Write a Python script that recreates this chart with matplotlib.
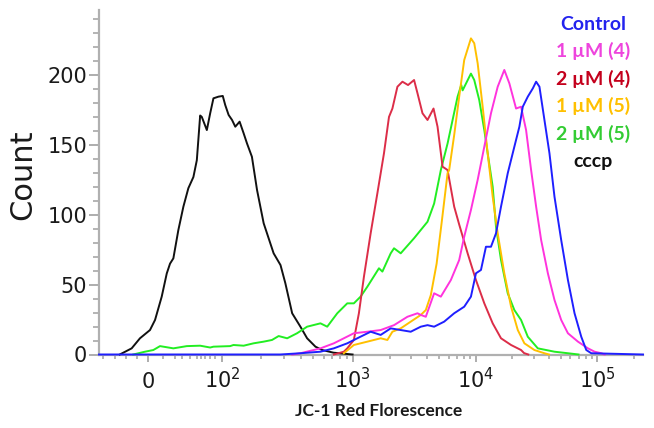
import numpy as np
import matplotlib
matplotlib.use('Agg')
import matplotlib.pyplot as plt
from matplotlib.ticker import FixedLocator, NullFormatter

# Fluorescence values (x) and counts (y)
cccp_x = [-38, -22, -10.8, 2.7, 9.5, 18.5, 25.3, 29.7, 34.2, 40.9, 47.7, 54.4, 61.2, 65.8,
          70.3, 72.5, 79.3, 83.8, 88.2, 95, 101, 105.5, 112, 119, 126, 136, 146, 155, 169,
          185, 208, 248, 280, 305, 344, 398, 448, 519, 585, 714, 1000]
cccp_y = [0, 4.4, 11.6, 17.5, 24.7, 41.4, 58, 65, 68.8, 89, 105.8, 119, 127, 139,
          171, 170, 160.6, 172.6, 183.3, 184.5, 185, 178.5, 171.4, 167.8, 163, 166.6, 158.3, 151, 141.5,
          117.7, 93.9, 72.4, 64, 51, 29.5, 19.9, 11.6, 5.6, 3.2, 1.3, 0]

green_x = [-19.9, -4.1, 7.2, 16.2, 34.2, 52.3, 70.3, 83.8, 88.2, 115, 122, 146, 174, 208,
           241, 271, 315, 375, 448, 567, 639, 763, 910, 1024, 1161, 1317, 1636, 1744, 2037,
           2167, 2456, 3151, 4049, 4581, 5193, 5888, 7099, 7600, 7797, 9107, 9688, 10650,
           11720, 12490, 13740, 14630, 16090, 18280, 20730, 23540, 26750, 32350, 44380, 57270, 70000]
green_y = [0, 2, 3.2, 6, 4.4, 6, 6.3, 5, 5.6, 6, 6.8, 6.3, 8, 9.2,
           10.4, 13.2, 11.6, 15.2, 19.9, 22.3, 19.9, 29.5, 36.6, 36.6, 41.4, 48.5, 61.7, 59.3, 72.4,
           76, 72.4, 83.2, 95, 108, 132, 151, 184.5, 192.8, 189, 201, 196.4, 182,
           160.6, 144, 120, 91.4, 67.6, 43.8, 31.8, 24.7, 12.7, 4.4, 2, 0.9, 0]

red_x = [718, 857, 910, 1024, 1125, 1236, 1401, 1588, 1797, 1973, 2103, 2309, 2536, 2816,
         3151, 3359, 3687, 4049, 4530, 4883, 5362, 5888, 6662, 7315, 8562, 10000, 11720,
         13740, 16090, 19470, 23540, 24930, 27000]
red_y = [0, 2, 4.4, 10.4, 29.5, 55.7, 86.7, 115.3, 144, 170, 176, 191.6, 195.2, 192.8,
         196.4, 186.9, 172.6, 167.8, 176, 163, 134.4, 132, 105.8, 93, 72.4, 53.3, 36.6,
         22.3, 11.6, 6.8, 3.2, 1, 0]

yellow_x = [857, 1024, 1317, 1689, 1915, 2103, 2456, 2961, 3571, 3922, 4307, 4800, 5300,
            5888, 6066, 6662, 7315, 8034, 9107, 9688, 10330, 11360, 12490, 13740, 15110,
            17130, 19470, 22120, 25070, 30330, 36680, 40000]
yellow_y = [0.9, 6.8, 9.2, 11.6, 10.4, 16.3, 18.7, 23.5, 28.3, 31.8, 42.5, 65, 96,
            129.7, 132, 157, 184.5, 210.7, 226.2, 222.7, 208.4, 177.3, 144, 112.9, 86.7,
            58.1, 34.2, 17.5, 8, 3.2, 0.9, 0]

magenta_x = [344, 398, 567, 718, 857, 1024, 1317, 1689, 2167, 2784, 3359, 3571, 3922, 4581,
             5193, 6262, 7315, 8034, 9107, 10330, 11720, 13300, 15110, 17130, 18850, 21410,
             23540, 25890, 28480, 31320, 34450, 39140, 44380, 50410, 57270, 69270, 83790,
             95000, 107900, 115000]
magenta_y = [0, 0.9, 4.4, 8, 11.6, 15.2, 16.3, 17.5, 21, 27, 29.5, 28.3, 27, 43.8,
             41.4, 53.3, 67.6, 84.3, 103.4, 124.9, 148.7, 172.6, 191.6, 203.6, 194, 176,
             177.3, 160.6, 132, 105.8, 81.9, 58.1, 39, 24.7, 15.2, 9.2, 4.4,
             2, 0.9, 0]

control_x = [-66, 279, 398, 567, 718, 910, 1092, 1401, 1689, 2037, 2456, 2961, 3571, 4049,
             4581, 5525, 6662, 8034, 9107, 10000, 11000, 12090, 13300, 14630, 16090, 18280,
             20730, 22800, 24320, 26750, 29420, 31320, 33360, 36680, 40340, 44380, 50410,
             57270, 64930, 73760, 81130, 89200, 238000]
control_y = [0, 0, 0.9, 2, 4.4, 8, 11.6, 16.3, 14, 18.7, 17.5, 16.3, 19.9, 21,
             19.9, 23.5, 29.5, 34.2, 41.4, 58.1, 60.5, 77.1, 77.1, 86.7, 105.8, 129.7,
             148.7, 163, 177.3, 184.5, 190.4, 195.2, 191.6, 167.8, 144, 112.9, 81.9,
             53.3, 29.5, 12.7, 3.2, 0.9, 0]

labels = ['Control', '1 \u00b5M (4)', '2 \u00b5M (4)', '1 \u00b5M (5)', '2 \u00b5M (5)', 'cccp']
text_colors = ['#2323ee', '#ee44dd', '#c4001c', '#ffc000', '#33cc33', '#111111']

x_ticks = [0, 1e2, 1e3, 1e4, 1e5]
x_ticklabels = ['0', '$\\mathregular{10^{2}}$', '$\\mathregular{10^{3}}$',
                '$\\mathregular{10^{4}}$', '$\\mathregular{10^{5}}$']
y_ticks = [0, 50, 100, 150, 200]

# biexponential-like display: linear up to 100, then log decades of unequal width
LIN = 0.74
DEC = [2, 3, 4, 5, 6]
DEC_POS = [0, 130, 253, 374, 495]


def fwd(x):
    x = np.asarray(x, dtype=float)
    lg = np.log10(np.maximum(x, 100))
    return np.where(x <= 100, x * LIN, 100 * LIN + np.interp(lg, DEC, DEC_POS))


def inv(y):
    y = np.asarray(y, dtype=float)
    d = np.maximum(y - 100 * LIN, 0)
    return np.where(y <= 100 * LIN, y / LIN, 10 ** np.interp(d, DEC_POS, DEC))


W, H = 654, 428
fig = plt.figure(figsize=(W / 100, H / 100), dpi=100)
ax = fig.add_axes([99 / W, 73.5 / H, 544 / W, 344.5 / H])

ax.set_xscale('function', functions=(fwd, inv))

lw = 1.4
series = [(cccp_x, cccp_y, '#111111'),
          (green_x, green_y, '#22ee22'),
          (red_x, red_y, '#dc2d48'),
          (yellow_x, yellow_y, '#ffc000'),
          (magenta_x, magenta_y, '#ff33dd'),
          (control_x, control_y, '#1f1fff')]
for x, y, c in series:
    ax.plot(x, y, color=c, lw=lw, clip_on=False, zorder=3)

ax.set_xlim(-66, 238000)
ax.set_ylim(0, 246.5)

# axes styling
for s in ['top', 'right']:
    ax.spines[s].set_visible(False)
for s in ['left', 'bottom']:
    ax.spines[s].set_color('#b0b0b0')
    ax.spines[s].set_linewidth(1.6)

ax.set_yticks(y_ticks)
ax.yaxis.set_minor_locator(FixedLocator(np.arange(10, 250, 10)))
ax.tick_params(axis='y', which='major', length=7, width=1.2, color='#a0a0a0',
               labelsize=15, labelcolor='#1a1a1a', pad=1.5)
ax.tick_params(axis='y', which='minor', length=4, width=1.2, color='#a8a8a8')

minor_x = [-60, -45, -30, -15, 20, 36, 46, 57, 66, 72, 77, 84, 90]
for dec in [1e2, 1e3, 1e4, 1e5]:
    minor_x += [m * dec for m in range(2, 10)]
ax.set_xticks(x_ticks)
ax.set_xticklabels(x_ticklabels)
ax.xaxis.set_minor_locator(FixedLocator(minor_x))
ax.xaxis.set_minor_formatter(NullFormatter())
ax.tick_params(axis='x', which='major', length=5, width=1.2, color='#a0a0a0',
               labelsize=15, labelcolor='#1a1a1a', pad=19)
ax.tick_params(axis='x', which='minor', length=3, width=1.2, color='#a8a8a8')
plt.setp(ax.get_xticklabels(), va='baseline')

fig.text(23 / W, 1 - 175 / H, 'Count', rotation=90, ha='center', va='center',
         fontsize=22, color='#1a1a1a')
fig.text(379 / W, 1 - 416 / H, 'JC-1 Red Florescence', ha='center', va='baseline',
         fontsize=12.5, fontweight='bold', family='Lato', color='#1a1a1a')

# coloured labels in place of a legend
for i, (lab, c) in enumerate(zip(labels, text_colors)):
    fig.text(593 / W, 1 - (30 + 27.4 * i) / H, lab, ha='center', va='baseline',
             fontsize=14, fontweight='bold', family='Lato', color=c)

fig.savefig('out.png', dpi=100)
